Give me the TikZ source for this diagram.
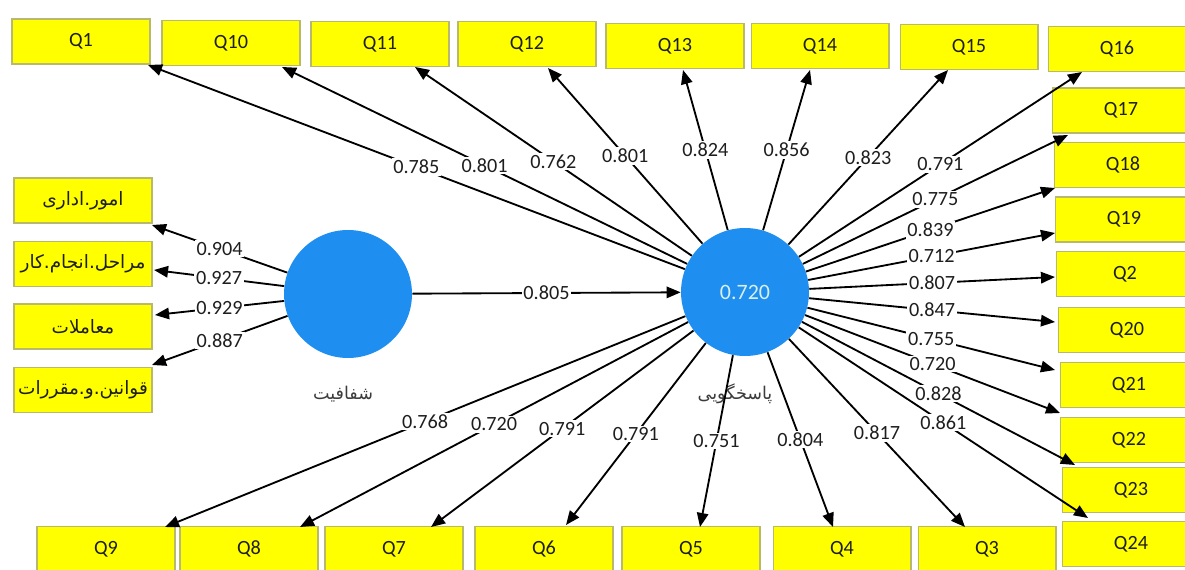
\documentclass[tikz,border=0pt]{standalone}
\usepackage{fontspec}
\setmainfont{Carlito}
\newfontfamily\fafont[Script=Arabic]{DejaVu Sans}
\TeXXeTstate=1
\usetikzlibrary{arrows.meta}

\definecolor{lvblue}{RGB}{30,142,240}
\definecolor{boxyellow}{RGB}{255,255,0}
\definecolor{boxedge}{RGB}{185,185,110}
\definecolor{rsq}{RGB}{215,240,235}
\definecolor{captxt}{RGB}{60,60,60}
\definecolor{numtxt}{RGB}{30,30,30}

\tikzset{
  qbox/.style={fill=boxyellow, draw=boxedge, line width=0.6pt,
    minimum width=2.76cm, minimum height=0.9cm, inner sep=0pt,
    font=\fontsize{11.5}{13}\selectfont, text=numtxt},
  fabox/.style={qbox, font=\fafont\fontsize{10.5}{12}\selectfont},
  latent/.style={circle, fill=lvblue, minimum size=2.56cm, inner sep=0pt},
  load/.style={draw=black, line width=1.05pt, -{Triangle[length=8pt,width=6.5pt]}},
  val/.style={fill=white, inner sep=1pt, text=numtxt, font=\fontsize{11.5}{13}\selectfont},
  lvname/.style={font=\fafont\fontsize{10}{12}\selectfont, text=captxt},
}

\begin{document}
\begin{tikzpicture}[x=0.02cm, y=-0.02cm]
\useasboundingbox (0,0) rectangle (1185,570);
\clip (0,0) rectangle (1185,570);

% latent variables
\node[latent] (L) at (348,294) {};
\node[latent] (R) at (745,292) {\color{rsq}\fontsize{12.5}{14}\selectfont 0.720};
\node[lvname] (Lcap) at (343,394) {\beginR شفافیت\endR};
\node[lvname] (Rcap) at (735,394) {\beginR پاسخگویی\endR};

% indicators of the left construct
\node[fabox] (m1) at (83,200.5) {\beginR امور.اداری\endR};
\node[fabox] (m2) at (83,264)   {\beginR مراحل.انجام.کار\endR};
\node[fabox] (m3) at (83,326.5) {\beginR معاملات\endR};
\node[fabox] (m4) at (83,390)   {\beginR قوانین.و.مقررات\endR};

% top row
\node[qbox] (Q1)  at (81,41.5) {Q1};
\node[qbox] (Q10) at (231,43)  {Q10};
\node[qbox] (Q11) at (380,44)  {Q11};
\node[qbox] (Q12) at (527,44)  {Q12};
\node[qbox] (Q13) at (675,46)  {Q13};
\node[qbox] (Q14) at (820,46)  {Q14};
\node[qbox] (Q15) at (969,47)  {Q15};
\node[qbox] (Q16) at (1117,49) {Q16};

% right column
\node[qbox] (Q17) at (1121,110.5) {Q17};
\node[qbox] (Q18) at (1123,165)   {Q18};
\node[qbox] (Q19) at (1124,219.5) {Q19};
\node[qbox] (Q2)  at (1125,274)   {Q2};
\node[qbox] (Q20) at (1127,330)   {Q20};
\node[qbox] (Q21) at (1129,385)   {Q21};
\node[qbox] (Q22) at (1129,440)   {Q22};
\node[qbox] (Q23) at (1131,490)   {Q23};
\node[qbox] (Q24) at (1131,544)   {Q24};

% bottom row
\node[qbox] (Q9) at (106,549) {Q9};
\node[qbox] (Q8) at (249,549) {Q8};
\node[qbox] (Q7) at (394,549) {Q7};
\node[qbox] (Q6) at (544,549) {Q6};
\node[qbox] (Q5) at (691,549) {Q5};
\node[qbox] (Q4) at (842,549) {Q4};
\node[qbox] (Q3) at (987,549) {Q3};

% arrow tip points at the indicator boxes
\coordinate (m1t) at (152,225);
\coordinate (m2t) at (154,270);
\coordinate (m3t) at (155,315);
\coordinate (m4t) at (152,365);

\coordinate (t1)  at (148,65);
\coordinate (t10) at (282,67);
\coordinate (t11) at (415,67);
\coordinate (t12) at (548,68);
\coordinate (t13) at (683,70);
\coordinate (t14) at (810,70);
\coordinate (t15) at (948,70);
\coordinate (t16) at (1082,72);
\coordinate (t17) at (1068,135);
\coordinate (t18) at (1055,188);
\coordinate (t19) at (1055,233);
\coordinate (t2)  at (1055,277);
\coordinate (t20) at (1055,322);
\coordinate (t21) at (1055,370);
\coordinate (t22) at (1060,413);
\coordinate (t23) at (1075,465);
\coordinate (t24) at (1088,518);
\coordinate (t9)  at (165,527);
\coordinate (t8)  at (300,527);
\coordinate (t7)  at (431,527);
\coordinate (t6)  at (566,525);
\coordinate (t5)  at (700,527);
\coordinate (t4)  at (833,527);
\coordinate (t3)  at (965,527);

% outer loadings of the left construct
\foreach \t/\v in {m1t/0.904, m2t/0.927, m3t/0.929, m4t/0.887}
  \draw[load] (L) -- node[val] {\v} (\t);

% path coefficient
\draw[load] (L) -- node[val] {0.805} (R);

% outer loadings of the right construct
\foreach \t/\v in {t1/0.785, t10/0.801, t11/0.762, t12/0.801, t13/0.824,
                   t14/0.856, t15/0.823, t16/0.791, t17/0.775, t18/0.839,
                   t19/0.712, t2/0.807, t20/0.847, t21/0.755, t22/0.720,
                   t23/0.828, t24/0.861, t9/0.768, t8/0.720, t7/0.791,
                   t6/0.791, t5/0.751, t4/0.804, t3/0.817}
  \draw[load] (R) -- node[val] {\v} (\t);

\end{tikzpicture}
\end{document}
